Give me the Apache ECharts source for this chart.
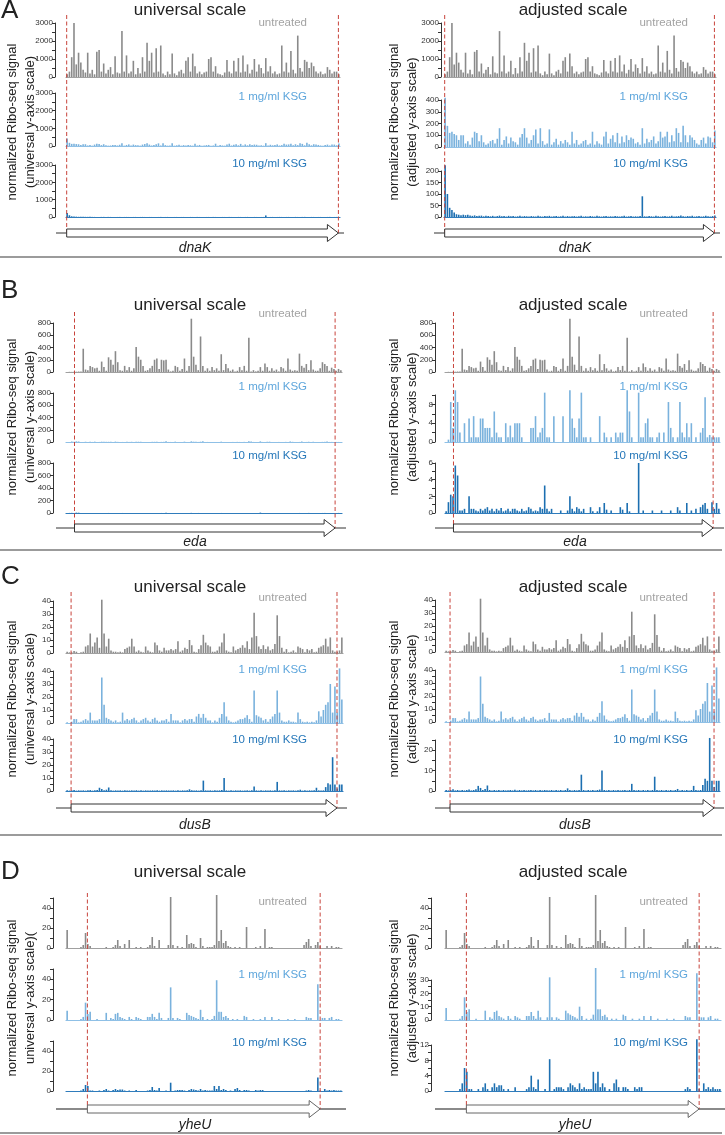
<!DOCTYPE html>
<html><head><meta charset="utf-8">
<script src="https://cdn.jsdelivr.net/npm/echarts/dist/echarts.min.js"></script>
<style>html,body{margin:0;padding:0;background:#fff}#c{width:725px;height:1135px}</style>
</head><body><div id="c"></div>
<script>
// ---------------- DATA ----------------
const panelLetters = ['A', 'B', 'C', 'D'];
const geneNames = ['dnaK', 'eda', 'dusB', 'yheU'];
const trackNames = ['untreated', '1 mg/ml KSG', '10 mg/ml KSG'];
const columnTitles = ['universal scale', 'adjusted scale'];
const yTitleLine1 = 'normalized Ribo-seq signal';
const yTitleLine2 = [
  ['(universal y-axis scale)', '(adjusted y-axis scale)'],
  ['(universal y-axis scale)', '(adjusted y-axis scale)'],
  ['(universal y-axis scale)', '(adjusted y-axis scale)'],
  ['universal y-axis scale)(', '(adjusted y-axis scale)']
];
// gene start / end in position units (bins of the track)
const geneStart = [0.3, 3.7, 2.2, 9.3];
const geneEnd = [119.3, 117, 117.4, 110.5];

const dnaK_untreated = [150,300,1100,3000,700,1350,800,400,250,1350,
 200,400,150,1400,1500,300,750,200,400,550,
 150,1150,250,200,2550,300,1200,200,300,900,
 150,500,200,1100,300,1900,900,1350,250,1600,
 300,1750,200,100,300,150,1300,200,100,300,
 400,200,900,1100,300,1300,600,200,300,150,
 250,300,1000,1100,300,600,200,150,100,250,
 950,300,200,900,300,1050,250,1200,300,700,
 200,400,1000,300,700,500,200,1050,300,600,
 200,300,150,200,1750,300,800,250,1450,400,
 200,2300,500,300,950,850,500,800,600,300,
 200,300,150,200,550,400,200,300,300,150];
const dnaK_1mg = [420,180,120,130,110,100,60,100,100,30,
 50,20,80,130,120,50,100,40,20,30,
 50,60,30,70,160,20,60,90,30,80,
 50,40,20,80,110,160,80,30,60,100,
 150,30,160,50,20,30,150,20,40,70,
 20,50,30,60,40,20,130,30,60,20,
 30,50,60,20,30,130,20,50,30,20,
 90,130,30,70,100,40,120,30,90,40,
 100,60,80,70,30,40,20,160,30,70,
 40,60,90,30,50,130,80,90,130,40,
 100,50,160,120,40,180,100,40,100,80,
 60,30,20,60,80,30,90,80,40,140];
const dnaK_10mg = [225,100,40,30,20,12,10,8,10,8,
 10,6,5,7,4,5,6,3,5,4,
 3,5,2,4,6,3,4,2,5,3,
 4,2,3,5,2,4,3,2,4,3,
 2,5,3,2,4,3,5,2,3,4,
 2,3,5,2,4,2,3,4,2,3,
 5,2,3,2,4,3,2,5,3,2,
 3,4,2,3,2,4,3,2,3,5,
 2,3,4,2,3,2,4,90,3,2,
 4,3,2,5,3,2,3,4,2,3,
 5,2,3,4,6,3,2,4,3,5,
 2,3,4,2,3,5,3,2,4,6];

const eda_untreated = [2,3,2,3,5,8,10,380,40,30,
 100,80,60,70,20,170,80,20,240,200,
 120,340,160,30,20,100,30,80,20,60,
 410,250,200,100,20,30,60,100,200,220,
 50,200,190,200,40,10,20,100,80,20,
 50,220,20,100,870,250,120,30,580,100,
 20,60,20,80,30,60,20,290,30,130,
 60,20,40,10,20,80,30,100,20,560,
 10,30,10,20,80,20,140,80,20,60,
 20,40,10,80,60,20,220,40,20,30,
 20,300,100,70,130,30,190,40,20,20,
 60,160,130,100,20,70,50,20,50,30];
const eda_1mg = [0,0.5,8.5,3,11,8.5,2,0,4,0,
 5,1,5.5,1,1,5,5,3,3,3,
 1,6.5,2,1,1,0,4,1,3.5,1,
 4,4,4,1,0,0,0,3,3,5.5,
 1,2,3,10.5,1,1,0,5.5,0,0,
 0,5.5,0,0,11,5,3,1,5,10.5,
 1,1,0,1,0,0,0,5.5,0,2,
 1,0,1,0,2,1,2,2,0,11,
 6.5,1,0,0,10.5,1,1,4,5,1,
 1,0,1,2,0,2,0,8.5,3,1,
 0,1,8.5,2,1,4,1,4,0,1,
 0,2,3,9.5,1,1.5,1,1,1,1];
const eda_10mg = [0.2,1.3,2.2,2,5.7,4.5,0.3,0.3,0.5,0,
 2,0.5,0.5,0.3,0.2,0.5,0.3,0.5,0.7,0.3,
 0.5,0.2,0.5,0.3,0.6,0.2,0.3,0.5,0.2,0.5,
 0.5,0.3,0.2,0.5,0.2,0.3,0.7,0.5,0.2,0.3,
 0.2,0.7,0.5,3.3,0.5,0.2,0.5,0,0,0,
 0.3,0,0,0.3,2,0.5,0.2,0.7,0.5,0.2,
 0.5,0,0,0.7,0.2,0,0.2,0.7,0,1.2,
 0.4,0,0.3,0,0,0,0.7,0.4,0,1.2,
 0.2,0,0,0,6,0,0.3,0,0,0,
 0.3,0,0,0,0.3,0,0,0,0.3,0,
 0,0.7,0.3,0,0,1.2,0,0.3,0,0.5,
 0,0.7,1,1.2,0.5,0,1.3,0.5,1.2,0.5];

const dusB_untreated = [1,0.5,0.5,1.5,1,0,0.5,1,5,6,
 15,5,8,12,4,41,15,5,11,2,
 1,1,0.5,1,0.5,3,4,5,11,5,
 1,2,1,0.5,5,2,1,0.5,8,6,
 2,1,4,2,2,3,2,3,9,1,
 2,4,3,10,6,1,0.5,3,6,14,
 8,6,5,1,1,2,5,8,15,2,
 1,0.5,5,2,3,4,6,4,9,3,
 12,31,13,5,3,6,3,5,2,3,
 7,29,13,4,1,3,0.5,1,2,0.5,
 5,4,3,0.5,3,2,3,0.5,1,4,
 5,6,11,5,12,2,1,1,2,12];
const dusB_1mg = [0.5,0,1,3,3,0.5,1,2,3,2,
 8,2,2,2,3,35,14,4,3,2,
 1,2,0.5,1,8,2,3,2,3,4,
 2,0.5,2,3,4,2,1,3,4,2,
 1,2,2,3,1,7,2,2,2,0.5,
 2,3,2,3,3,1,5,7,4,7,
 4,2,2,0.5,2,1,4,7,16,5,
 2,1,0.5,1,2,3,3,4,6,3,
 1,25,6,5,4,2,3,1,3,5,
 7,25,8,2,1,1,2,1,1,0.5,
 8,3,1,0.5,1,0.5,1,0.5,2,9,
 5,10,14,16,30,8,28,8,42,18];
const dusB_10mg = [0.5,0.3,0.5,0.8,0.3,0.5,0.3,0.5,0.3,0.5,
 0.7,0.3,0.5,0.8,2.5,1.5,0.5,1,2.7,0.5,
 0.3,0.5,0.3,0.5,0.3,0.5,0.3,0.4,0.5,0.3,
 0.6,0.3,0.5,0.3,0.5,0.3,0.4,0.5,0.3,0.5,
 0.3,0.5,0.3,0.5,0.4,0.3,0.5,0.3,0.5,0.3,
 0.5,0.3,0.5,1.3,0.5,0.3,0.5,0.3,0.5,8,
 0.5,0.3,0.5,0.3,0.5,0.3,0.5,0.7,10,0.5,
 0.3,0.5,0.3,0.5,0.3,0.5,0.3,0.4,0.5,0.3,
 0.5,3.5,0.5,0.3,0.5,0.3,0.5,0.3,0.5,0.3,
 0.5,7,0.5,0.3,0.5,0.3,0.5,0.3,0.5,0.3,
 0.5,1,0.3,0.5,0.3,0.5,0.3,0.5,2.5,0.5,
 0.3,0.5,3,6,5,26,5,2,5,5];

const yheU_untreated = [18,0,0,0,0,0,1,3,15,4,
 2,0,0,0,0,0,0,1,0,0,
 1,3,8,2,0,4,0,8,0,0,
 1,0,1,0,0,1,3,11,2,0,
 8,0,0,0,3,51,3,0,2,0,
 1,0,13,4,5,4,1,0,10,2,
 0,1,1,1,3,53,7,18,5,7,
 2,1,0,1,0,1,0,0,21,0,
 0,0,1,0,2,0,19,0,1,1,
 0,0,0,0,0,0,0,0,0,0,
 0,0,0,3,6,9,2,0,3,6,
 2,0,0,2,0,2,0,1,1,0];
const yheU_1mg = [9,0,0,0,0,0,1,3,17,6,
 8,0,0,1,0,0,0,7,0,2,
 1,6,7,3,2,1,0,3,1,0,
 3,2,1,0,0,3,3,6,3,1,
 7,2,0,0,2,32,2,0,2,1,
 0,0,7,5,4,3,2,1,10,3,
 0,1,0,1,4,39,8,8,3,4,
 2,0,1,0,1,0,0,4,3,0,
 0,1,0,0,1,0,3,0,0,3,
 0,0,1,0,0,0,1,0,0,1,
 0,0,0,0,3,2,2,0,0,35,
 0,2,2,0,2,3,0,1,1,0];
const yheU_10mg = [0,0,0,0,0,0,0.5,2,6,5,
 0.5,0.5,0,0,0.5,0,1,2,0.5,0,
 1,2,1,1.5,1.5,0.5,0,0.5,0,0,
 1,0,0,0,0,0.5,1,4,1,0.5,
 3,0,0,0.5,0,8.3,0,0.5,1,1,
 1,0.5,0,1,2,1.5,1,0.5,2,0.5,
 1,0.5,0.5,0.5,5,2,5,1,2,1,
 0,0.5,0,2,3,1,0,1,1,0.5,
 0,0,1,0.5,1,1,0,0,0,0,
 0,0,0,0,0,0,0,0,0,0,
 0,0,0,0,0.5,1,0.5,0,0,13.5,
 0.5,0,2,0.5,1,0.5,1,0.5,0.5,0.5];

// y-axis scales [panel][column][track]
const yMax = [[[3000,3000,3000],[3000,400,200]], [[800,800,800],[800,10,6]], [[40,40,40],[40,40,25]], [[50,50,50],[50,30,12]]];
const yTickStep = [[[500,500,500],[500,100,50]], [[200,200,200],[200,2,1]], [[5,5,5],[5,5,5]], [[10,10,10],[10,5,2]]];
const yLabelStep = [[[1000,1000,1000],[1000,100,50]], [[200,200,200],[200,4,2]], [[10,10,10],[10,10,10]], [[20,20,20],[20,10,4]]];

// ---------------- LAYOUT / STYLE ----------------
const trackData = [
  [dnaK_untreated, dnaK_1mg, dnaK_10mg],
  [eda_untreated, eda_1mg, eda_10mg],
  [dusB_untreated, dusB_1mg, dusB_10mg],
  [yheU_untreated, yheU_1mg, yheU_10mg]
];
const FONT = '"Liberation Sans", Arial, Helvetica, sans-serif';
const barColor = ['#8a8a8a', '#7ab2dd', '#1c6fb1'];
const baseColor = ['#a0a0a0', '#8fc0e6', '#2f7cbc'];
const labelColor = ['#a3a3a3', '#5ea6dc', '#2577b9'];
const L = [
 {cols:[[66,340],[444,716]], off:[11,3], tr:[[[23,77],[93,146],[165,217]],[[23,77],[100,147],[171,217]]], dashTop:15, arrowY:233, titleY:10, letterY:11, nameY:248, sepY:257, labelY:[23,97,164], yTitleY:122},
 {cols:[[66,342],[445,720]], off:[13,10], tr:[[[323,372],[393,442],[463,513]],[[323,372],[395,442],[463,513]]], dashTop:312, arrowY:528, titleY:305, letterY:291, nameY:542, sepY:550, labelY:[314,387,456], yTitleY:417},
 {cols:[[66,343],[445,720]], off:[13,10], tr:[[[601,653],[671,723],[739,791]],[[600,652],[670,722],[740,791]]], dashTop:592, arrowY:808, titleY:587, letterY:577, nameY:825, sepY:835, labelY:[598,670,740], yTitleY:699},
 {cols:[[66,342],[445,721]], off:[13,14], tr:[[[898,948],[969,1020],[1041,1091]],[[898,948],[980,1020],[1045,1091]]], dashTop:893, arrowY:1109, titleY:872, letterY:872, nameY:1125, sepY:1133, labelY:[902,975,1043], yTitleY:998}
];
const colTitleX = [190, 573];
const labelRightX = [307, 688];
const yTitleX = [[12, 30], [394, 412]];
const nameX = [195, 575];

const grid = [], xAxis = [], yAxis = [], series = [], graphic = [];

function txt(x, y, text, font, fill, align, vAlign, rot) {
  const el = {type:'text', x:x, y:y, silent:true,
    style:{text:text, font:font, fill:fill, align:align||'center', verticalAlign:vAlign||'middle',
           textAlign:align||'center', textVerticalAlign:vAlign||'middle'}};
  if (rot) el.rotation = rot;
  graphic.push(el);
}

function geneRenderer(N, isD) {
  return function(params, api) {
    const s = api.coord([api.value(0), 0]);
    const e = api.coord([api.value(1), 0]);
    const t = api.coord([api.value(0), 1]);
    const a = api.coord([0, 0]);
    const b = api.coord([N, 0]);
    const y = s[1];
    const hl = 11, bh = 4, hh = 8.5;
    const dash = {stroke:'#c8443c', lineWidth:1, lineDash:[4,2.5]};
    return {type:'group', children:[
      {type:'line', shape:{x1:a[0]-10, y1:y, x2:b[0]+4, y2:y},
        style: isD ? {stroke:'#8a8a8a', lineWidth:2.2} : {stroke:'#333', lineWidth:1}},
      {type:'line', shape:{x1:s[0], y1:t[1], x2:s[0], y2:y}, style:dash},
      {type:'line', shape:{x1:e[0], y1:t[1], x2:e[0], y2:y}, style:dash},
      {type:'polygon', shape:{points:[[s[0],y-bh],[e[0]-hl,y-bh],[e[0]-hl,y-hh],[e[0],y],[e[0]-hl,y+hh],[e[0]-hl,y+bh],[s[0],y+bh]]},
        style:{fill:'#fff', stroke: isD ? '#666' : '#333', lineWidth:1}}
    ]};
  };
}

for (let p = 0; p < 4; p++) {
  const lay = L[p];
  const N = trackData[p][0].length;
  const cats = trackData[p][0].map((_, i) => i);
  txt(1, lay.letterY, panelLetters[p], '26px ' + FONT, '#222', 'left', 'middle');
  graphic.push({type:'line', silent:true, shape:{x1:0, y1:lay.sepY, x2:722, y2:lay.sepY}, style:{stroke:'#7a7a7a', lineWidth:1.5}});
  for (let c = 0; c < 2; c++) {
    const [x0, x1] = lay.cols[c];
    txt(colTitleX[c], lay.titleY, columnTitles[c], '17px ' + FONT, '#222');
    txt(yTitleX[c][0], lay.yTitleY, yTitleLine1, '13px ' + FONT, '#222', 'center', 'middle', Math.PI / 2);
    txt(yTitleX[c][1], lay.yTitleY, yTitleLine2[p][c], '13px ' + FONT, '#222', 'center', 'middle', Math.PI / 2);
    txt(nameX[c], lay.nameY, geneNames[p], 'italic 14px ' + FONT, '#222');
    for (let t = 0; t < 3; t++) {
      const [top, bot] = lay.tr[c][t];
      const gi = grid.length;
      grid.push({left:x0, top:top, width:x1 - x0, height:bot - top});
      xAxis.push({type:'category', gridIndex:gi, data:cats, boundaryGap:true,
        axisLine:{show:true, lineStyle:{color:baseColor[t], width:1.2}},
        axisTick:{show:false}, axisLabel:{show:false}, splitLine:{show:false}});
      const ls = yLabelStep[p][c][t];
      yAxis.push({type:'value', gridIndex:gi, min:0, max:yMax[p][c][t], interval:yTickStep[p][c][t],
        offset:lay.off[c],
        axisLine:{show:true, lineStyle:{color:'#333', width:1}},
        axisTick:{show:true, length:3, lineStyle:{color:'#333', width:1}},
        axisLabel:{show:true, fontSize:8, color:'#333', margin:2, fontFamily:FONT,
          formatter:function(v){ const r = v / ls; return Math.abs(r - Math.round(r)) < 1e-6 ? String(v) : ''; }},
        splitLine:{show:false}});
      series.push({type:'bar', xAxisIndex:gi, yAxisIndex:gi, data:trackData[p][t], barWidth:1.6,
        clip:false, silent:true, itemStyle:{color:barColor[t]}, animation:false});
      txt(labelRightX[c], lay.labelY[t], trackNames[t], '11.5px ' + FONT, labelColor[t], 'right', 'middle');
    }
    const oi = grid.length;
    grid.push({left:x0, top:lay.dashTop, width:x1 - x0, height:lay.arrowY - lay.dashTop});
    xAxis.push({type:'value', gridIndex:oi, min:0, max:N, show:false});
    yAxis.push({type:'value', gridIndex:oi, min:0, max:1, show:false});
    series.push({type:'custom', xAxisIndex:oi, yAxisIndex:oi, z:10, silent:true, clip:false,
      data:[[geneStart[p], geneEnd[p]]], renderItem:geneRenderer(N, p === 3), animation:false});
  }
}

const chart = echarts.init(document.getElementById('c'));
chart.setOption({animation:false, backgroundColor:'#fff', grid, xAxis, yAxis, series, graphic});
</script></body></html>
